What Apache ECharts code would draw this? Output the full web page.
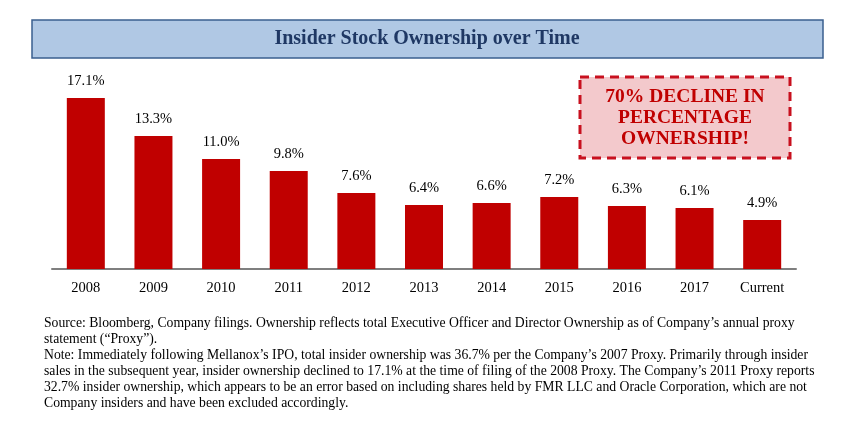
<!DOCTYPE html>
<html><head><meta charset="utf-8">
<script src="https://cdn.jsdelivr.net/npm/echarts@6/dist/echarts.min.js"></script>
<style>html,body{margin:0;padding:0;background:#fff}#c{width:855px;height:447px}</style>
</head><body><div id="c"></div>
<script>
const categories = ['2008','2009','2010','2011','2012','2013','2014','2015','2016','2017','Current'];
const ownership = [17.1, 13.3, 11.0, 9.8, 7.6, 6.4, 6.6, 7.2, 6.3, 6.1, 4.9];
const titleText = 'Insider Stock Ownership over Time';
const calloutLines = ['70% DECLINE IN', 'PERCENTAGE', 'OWNERSHIP!'];
const footnoteLines = [
  'Source: Bloomberg, Company filings. Ownership reflects total Executive Officer and Director Ownership as of Company\u2019s annual proxy',
  'statement (\u201cProxy\u201d).',
  'Note: Immediately following Mellanox\u2019s IPO, total insider ownership was 36.7% per the Company\u2019s 2007 Proxy. Primarily through insider',
  'sales in the subsequent year, insider ownership declined to 17.1% at the time of filing of the 2008 Proxy. The Company\u2019s 2011 Proxy reports',
  '32.7% insider ownership, which appears to be an error based on including shares held by FMR LLC and Oracle Corporation, which are not',
  'Company insiders and have been excluded accordingly.'
];
const serif = '"Liberation Serif", "Times New Roman", serif';
const chart = echarts.init(document.getElementById('c'), null, {renderer: 'canvas'});
const graphics = [
  {type:'rect', shape:{x:32, y:20, width:791, height:38}, style:{fill:'#b0c8e4', stroke:'#3a5f8f', lineWidth:1.5}},
  {type:'text', x:427, y:39, style:{text:titleText, font:'bold 20px ' + serif, fill:'#1f3864', align:'center', verticalAlign:'middle'}},
  {type:'rect', shape:{x:580, y:77, width:210, height:81}, style:{fill:'#f3c9cc', stroke:'#c8101e', lineWidth:3, lineDash:[9,6]}},
  {type:'text', x:685, y:118, style:{text:calloutLines.join('\n'), font:'bold 19.5px ' + serif, lineHeight:21, fill:'#c00000', align:'center', verticalAlign:'middle'}}
];
footnoteLines.forEach((t, i) => {
  graphics.push({type:'text', x:44, y:323 + i*16, style:{text:t, font:'13.7px ' + serif, fill:'#000', align:'left', verticalAlign:'middle'}});
});
chart.setOption({
  animation:false,
  grid:{left:52, right:59, top:69, height:200, containLabel:false},
  xAxis:{type:'category', data:categories,
    axisLine:{lineStyle:{color:'#7f7f7f', width:2}}, axisTick:{show:false},
    axisLabel:{fontFamily:serif, fontSize:14.5, color:'#000', margin:12}},
  yAxis:{type:'value', min:0, max:20, show:false, splitLine:{show:false}},
  series:[{type:'bar', data:ownership, barWidth:38,
    itemStyle:{color:'#c00000'},
    label:{show:true, position:'top', distance:9, formatter:p => p.value.toFixed(1) + '%', fontFamily:serif, fontSize:14.5, color:'#000'}}],
  graphic:graphics
});
</script></body></html>
